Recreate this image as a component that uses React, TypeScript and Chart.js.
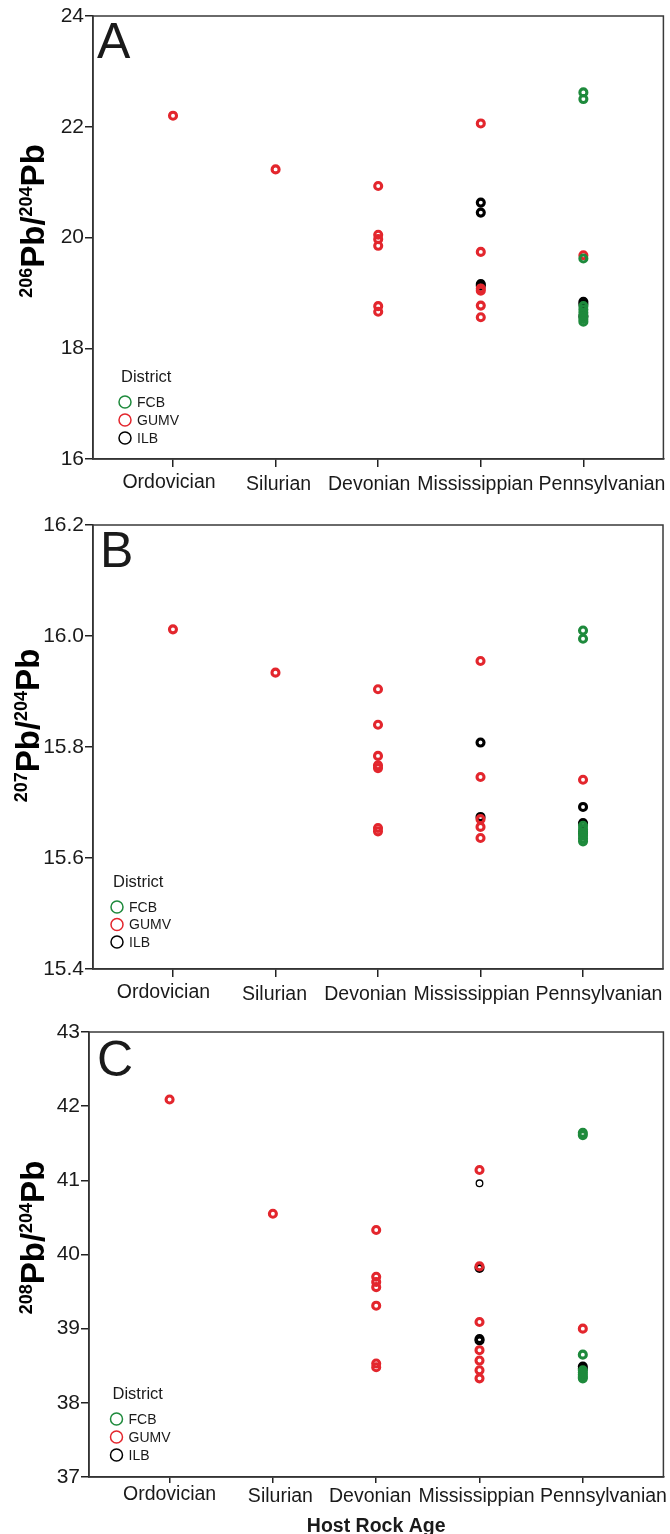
import React, { useEffect, useRef } from 'react';
import { Chart, registerables } from 'chart.js';

Chart.register(...registerables);

// ---------- data ----------
const categories = ['Ordovician', 'Silurian', 'Devonian', 'Mississippian', 'Pennsylvanian'];
const districts = ['FCB', 'GUMV', 'ILB'];
const districtColors = ['#1E8A3C', '#E3262D', '#000000'];

// values grouped by host-rock age (index = category)
// Panel A: 206Pb/204Pb
const pb206_FCB = [[], [], [], [], [22.62, 22.5, 19.62, 18.76, 18.7, 18.64, 18.58, 18.53, 18.48]];
const pb206_GUMV = [[22.2], [21.23], [20.93, 20.05, 19.97, 19.85, 18.76, 18.66], [22.06, 19.74, 19.08, 19.04, 18.77, 18.56], [19.68]];
const pb206_ILB = [[], [], [], [20.63, 20.45, 19.16, 19.13], [18.84, 18.8, 18.58]];
const yTicksA = [16, 18, 20, 22, 24];

// Panel B: 207Pb/204Pb
const pb207_FCB = [[], [], [], [], [16.01, 15.995, 15.658, 15.652, 15.646, 15.64, 15.635, 15.63]];
const pb207_GUMV = [[16.012], [15.934], [15.904, 15.84, 15.784, 15.767, 15.762, 15.654, 15.648], [15.955, 15.746, 15.67, 15.656, 15.636], [15.741]];
const pb207_ILB = [[], [], [], [15.808, 15.674], [15.692, 15.663, 15.646]];
const yTicksB = [15.4, 15.6, 15.8, 16.0, 16.2];

// Panel C: 208Pb/204Pb
const pb208_FCB = [[], [], [], [], [41.64, 41.61, 38.65, 38.44, 38.41, 38.38, 38.35, 38.33]];
const pb208_GUMV = [[42.09], [40.55], [40.33, 39.7, 39.63, 39.56, 39.31, 38.53, 38.48], [41.14, 39.84, 39.09, 38.71, 38.57, 38.44, 38.33], [39.0]];
const pb208_ILB = [[], [], [], [40.96, 39.82, 38.86, 38.84], [38.49, 38.46]];
const yTicksC = [37, 38, 39, 40, 41, 42, 43];

// ---------- styling ----------
const FONT = '"Liberation Sans", Arial, Helvetica, sans-serif';
const TEXT = '#1a1a1a';

const panels = [
  {
    letter: 'A', iso: '206', top: 0, h: 505,
    area: { left: 93, right: 664, top: 16, bottom: 459 },
    yMin: 16, yMax: 24, yTicks: yTicksA, decimals: 0,
    series: [pb206_FCB, pb206_GUMV, pb206_ILB],
    letterDx: 4, letterDy: 42, titleX: 44, titleDy: -16.5,
    legend: { cx: 32, ilb: -21, sp: 18 },
    labelDx: [-4, 3, -9, -5.5, 18.6], labelBase: 31, labelDy: [-2.5, 0, 0, 0, 0],
    xTick: 8, xTitle: false, thin: [[], [], []],
  },
  {
    letter: 'B', iso: '207', top: 505, h: 510,
    area: { left: 93, right: 663, top: 20, bottom: 464 },
    yMin: 15.4, yMax: 16.2, yTicks: yTicksB, decimals: 1,
    series: [pb207_FCB, pb207_GUMV, pb207_ILB],
    letterDx: 7, letterDy: 42, titleX: 39, titleDy: -21.5,
    legend: { cx: 24, ilb: -27, sp: 17.5 },
    labelDx: [-9.5, -1, -12.6, -9, 16], labelBase: 31, labelDy: [-2.5, 0, 0, 0, 0],
    xTick: 8, xTitle: false, thin: [[], [], []],
  },
  {
    letter: 'C', iso: '208', top: 1015, h: 519,
    area: { left: 89, right: 664, top: 17, bottom: 462 },
    yMin: 37, yMax: 43, yTicks: yTicksC, decimals: 0,
    series: [pb208_FCB, pb208_GUMV, pb208_ILB],
    letterDx: 8, letterDy: 44, titleX: 44, titleDy: -17,
    legend: { cx: 27.5, ilb: -22, sp: 18 },
    labelDx: [0, 7.5, -6, -3, 20.7], labelBase: 25, labelDy: [-2, 0, 0, 0, 0],
    xTick: 6, xTitle: true, thin: [[], [], [0]],
  },
];

const toPoints = (byCat: number[][]) =>
  byCat.flatMap((vals, i) => vals.map((v) => ({ x: i, y: v })));

const decoPlugin = {
  id: 'deco',
  afterDraw(chart: any, _args: any, o: any) {
    const { ctx, chartArea: a } = chart;
    const xs = chart.scales.x;
    ctx.save();
    // frame
    ctx.strokeStyle = '#3a3a3a';
    ctx.lineWidth = 1.5;
    ctx.strokeRect(a.left, a.top, a.right - a.left, a.bottom - a.top);

    // category labels under tick marks
    ctx.fillStyle = TEXT;
    ctx.font = `19.5px ${FONT}`;
    ctx.textAlign = 'center';
    ctx.textBaseline = 'alphabetic';
    categories.forEach((c, i) => {
      ctx.fillText(c, xs.getPixelForValue(i) + o.labelDx[i], a.bottom + o.labelBase + (o.labelDy[i] || 0));
    });

    // panel letter
    ctx.textAlign = 'left';
    ctx.font = `50px ${FONT}`;
    ctx.fillText(o.letter, a.left + o.letterDx, a.top + o.letterDy);

    // legend
    const ds = chart.data.datasets;
    const cx = a.left + o.legend.cx;
    const y0 = a.bottom + o.legend.ilb - o.legend.sp * (ds.length - 1);
    ctx.textBaseline = 'middle';
    ctx.font = `16.5px ${FONT}`;
    ctx.fillText('District', cx - 4, y0 - 25);
    ds.forEach((d: any, i: number) => {
      const y = y0 + i * o.legend.sp;
      ctx.beginPath();
      ctx.arc(cx, y, 6, 0, Math.PI * 2);
      ctx.strokeStyle = d.borderColor;
      ctx.lineWidth = 1.5;
      ctx.stroke();
      ctx.fillStyle = TEXT;
      ctx.font = `14px ${FONT}`;
      ctx.fillText(d.label, cx + 12, y + 1);
    });

    // rotated y-axis title with superscripts
    const parts = [
      { t: o.iso, f: `bold 18px ${FONT}`, dy: -12 },
      { t: 'Pb', f: `bold 33px ${FONT}`, dy: 0 },
      { t: '/', f: `bold 33px ${FONT}`, dy: 0 },
      { t: '204', f: `bold 18px ${FONT}`, dy: -12 },
      { t: 'Pb', f: `bold 33px ${FONT}`, dy: 0 },
    ];
    let total = 0;
    const widths = parts.map((p) => {
      ctx.font = p.f;
      const w = ctx.measureText(p.t).width;
      total += w;
      return w;
    });
    ctx.translate(o.titleX, (a.top + a.bottom) / 2 + o.titleDy);
    ctx.rotate(-Math.PI / 2);
    ctx.textBaseline = 'alphabetic';
    ctx.textAlign = 'left';
    ctx.fillStyle = '#000';
    let x = -total / 2;
    parts.forEach((p, i) => {
      ctx.font = p.f;
      ctx.fillText(p.t, x, p.dy);
      x += widths[i];
    });
    ctx.restore();
  },
};

function Panel({ p }: { p: any }) {
  const ref = useRef<HTMLCanvasElement | null>(null);
  useEffect(() => {
    if (!ref.current) return;
    const chart = new Chart(ref.current, {
      type: 'scatter',
      data: {
        datasets: districts.map((d, k) => ({
          label: d,
          data: toPoints(p.series[k]),
          borderColor: districtColors[k],
          backgroundColor: 'rgba(0,0,0,0)',
          pointRadius: (c: any) => (p.thin[k].includes(c.dataIndex) ? 3.3 : 3.5),
          pointHoverRadius: 3.5,
          pointBorderWidth: (c: any) => (p.thin[k].includes(c.dataIndex) ? 1.3 : 3.1),
        })),
      },
      options: {
        responsive: false,
        animation: false,
        events: [],
        layout: { padding: { left: 0, top: p.area.top, right: 670 - p.area.right, bottom: 0 } },
        plugins: {
          legend: { display: false },
          tooltip: { enabled: false },
          deco: {
            letter: p.letter, iso: p.iso, letterDx: p.letterDx, letterDy: p.letterDy,
            titleX: p.titleX, titleDy: p.titleDy, legend: p.legend,
            labelDx: p.labelDx, labelBase: p.labelBase, labelDy: p.labelDy,
          },
        } as any,
        scales: {
          x: {
            type: 'linear',
            min: -0.78,
            max: 4.78,
            afterBuildTicks: (s: any) => {
              s.ticks = categories.map((_, i) => ({ value: i }));
            },
            ticks: { display: false },
            grid: { drawOnChartArea: false, drawTicks: true, tickLength: p.xTick, color: '#222', lineWidth: 1.5 },
            border: { display: true, color: '#222', width: 1.5 },
            title: {
              display: p.xTitle,
              text: 'Host Rock Age',
              color: TEXT,
              font: { family: FONT, size: 19.5, weight: 'bold', lineHeight: 0.77 },
              padding: 0,
            },
            afterFit: (s: any) => {
              s.height = p.h - p.area.bottom;
            },
          },
          y: {
            type: 'linear',
            min: p.yMin,
            max: p.yMax,
            afterBuildTicks: (s: any) => {
              s.ticks = p.yTicks.map((v: number) => ({ value: v }));
            },
            ticks: {
              callback: (v: any) => Number(v).toFixed(p.decimals),
              font: { family: FONT, size: 21 },
              color: TEXT,
              padding: 1,
            },
            grid: { drawOnChartArea: false, drawTicks: true, tickLength: 8, color: '#222', lineWidth: 1.5 },
            border: { display: true, color: '#222', width: 1.5 },
            afterFit: (s: any) => {
              s.width = p.area.left;
            },
          },
        } as any,
      },
      plugins: [decoPlugin],
    });
    return () => chart.destroy();
  }, []);
  return (
    <canvas
      ref={ref}
      width={670}
      height={p.h}
      style={{ position: 'absolute', left: 0, top: p.top, width: 670, height: p.h }}
    />
  );
}

export default function App() {
  return (
    <div style={{ position: 'absolute', left: 0, top: 0, width: 670, height: 1534, background: '#fff' }}>
      {panels.map((p) => (
        <Panel key={p.letter} p={p} />
      ))}
    </div>
  );
}
